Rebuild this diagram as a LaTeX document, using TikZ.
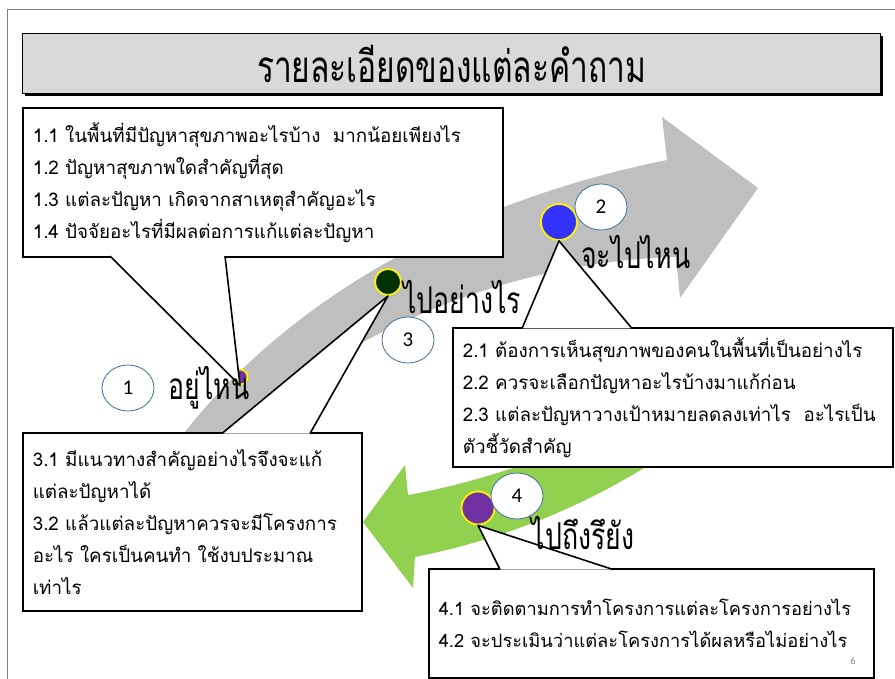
\documentclass[tikz,border=0pt]{standalone}
\usepackage{fontspec}
\newfontfamily\thai[Script=Thai]{Loma}
\newfontfamily\thaicond[Script=Thai,FakeStretch=0.72]{Loma}
\newfontfamily\numfont{Carlito}
\usetikzlibrary{positioning,calc,shapes.geometric}

\definecolor{bandgray}{RGB}{191,191,191}
\definecolor{arrowgreen}{RGB}{146,208,80}
\definecolor{titlegray}{RGB}{217,217,217}
\definecolor{framegray}{RGB}{128,128,128}
\definecolor{dotpurple}{RGB}{112,48,160}
\definecolor{dotgreen}{RGB}{0,51,0}
\definecolor{dotblue}{RGB}{51,51,255}
\definecolor{ringblue}{RGB}{65,113,156}

\begin{document}
\begin{tikzpicture}[x=1pt, y=-1pt, semithick]
	\tikzstyle{box}=[draw=black, line width=1.6pt, fill=white, anchor=north west, inner xsep=10pt, inner ysep=0pt, align=left, font=\thai\fontsize{18.8}{32}\selectfont]
	\tikzstyle{dot}=[circle, draw=yellow, line width=1.8pt, inner sep=0pt]
	\tikzstyle{num}=[ellipse, draw=ringblue, line width=0.8pt, fill=white, inner sep=0pt, minimum width=52, minimum height=46, font=\numfont\fontsize{21}{21}\selectfont]
	\tikzstyle{where}=[inner sep=0pt, font=\thaicond\fontsize{37}{37}\selectfont]
	\tikzstyle{pointer}=[draw=black, line width=1.6pt, fill=white, line join=round]
	\useasboundingbox (0,0) rectangle (895,679);
	
	\draw[framegray, line width=1pt] (7,679) -- (7,10) -- (895,10);
	
	% arrows
	\fill[bandgray] (175,445) .. controls (260,330) and (420,210) .. (667,160) -- (662,117) -- (758,188) -- (680,298) -- (676,257) .. controls (480,262) and (300,360) .. (228,445) -- cycle;
	\fill[arrowgreen] (408,495) .. controls (480,482) and (590,450) .. (690,380) -- (700,430) .. controls (600,505) and (500,540) .. (415,557) -- (413,588) -- (363,522) -- (405,465) -- cycle;
	
	\fill[black] (25,36) rectangle (883,96);
	\node[draw=black, line width=1.2pt, fill=titlegray, anchor=north west, minimum width=858, minimum height=60, font=\thaicond\fontsize{44}{44}\selectfont] (title) at (22,33) {รายละเอียดของแต่ละคำถาม};
	
	\node[box, text width=460, minimum height=149] (b1) at (22,107) {1.1 ในพื้นที่มีปัญหาสุขภาพอะไรบ้าง\ \ มากน้อยเพียงไร\\1.2 ปัญหาสุขภาพใดสำคัญที่สุด\\1.3 แต่ละปัญหา เกิดจากสาเหตุสำคัญอะไร\\1.4 ปัจจัยอะไรที่มีผลต่อการแก้แต่ละปัญหา};
	\node[box, text width=420, minimum height=139] (b2) at (452,327) {2.1 ต้องการเห็นสุขภาพของคนในพื้นที่เป็นอย่างไร\\2.2 ควรจะเลือกปัญหาอะไรบ้างมาแก้ก่อน\\2.3 แต่ละปัญหาวางเป้าหมายลดลงเท่าไร\ \ อะไรเป็น\\ตัวชี้วัดสำคัญ};
	\node[box, text width=319, minimum height=178] (b3) at (22,432) {3.1 มีแนวทางสำคัญอย่างไรจึงจะแก้\\แต่ละปัญหาได้\\3.2 แล้วแต่ละปัญหาควรจะมีโครงการ\\อะไร ใครเป็นคนทำ ใช้งบประมาณ\\เท่าไร};
	\node[box, text width=425, minimum height=109, font=\thai\fontsize{18.3}{32}\selectfont] (b4) at (428,568) {4.1 จะติดตามการทำโครงการแต่ละโครงการอย่างไร\\4.2 จะประเมินว่าแต่ละโครงการได้ผลหรือไม่อย่างไร};
	
	\node[dot, fill=dotpurple, minimum size=15] (d1) at (240,377) {};
	\node[dot, fill=dotblue, minimum size=36] (d2) at (559,222) {};
	\node[dot, fill=dotgreen, minimum size=26] (d3) at (388,282) {};
	\node[dot, fill=dotpurple, minimum size=33] (d4) at (478,508) {};
	
	% callout pointers
	\coordinate (p1a) at ($(b1.south west)+(88,-1.5)$);
	\coordinate (p1b) at ($(b1.south west)+(203,-1.5)$);
	\coordinate (p2a) at ($(b2.north west)+(70,1.5)$);
	\coordinate (p2b) at ($(b2.north west)+(180,1.5)$);
	\coordinate (p3a) at ($(b3.north west)+(200,1.5)$);
	\coordinate (p3b) at ($(b3.north west)+(288,1.5)$);
	\coordinate (p4a) at ($(b4.north west)+(72,1.5)$);
	\coordinate (p4b) at ($(b4.north west)+(185,1.5)$);
	\filldraw[pointer] (p1a) -- (d1.south) -- (p1b);
	\filldraw[pointer] (p2a) -- (d2.south) -- (p2b);
	\filldraw[pointer] (p3a) -- (d3.south) -- (p3b);
	\filldraw[pointer] (p4a) -- (d4.south) -- (p4b);
	
	\node[num] (n1) at (128,388) {1};
	\node[num] (n2) at (601,207) {2};
	\node[num] (n3) at (408,340) {3};
	\node[num] (n4) at (517,496) {4};
	
	\node[where, right=14pt of n1] (l1) {อยู่ไหน};
	\node[where] (l2) at (636,252) {จะไปไหน};
	\node[where] (l3) at (462,297) {ไปอย่างไร};
	\node[where] (l4) at (583,533) {ไปถึงรึยัง};
	
	\node[text=framegray, font=\numfont\fontsize{10}{10}\selectfont] (page) at (853,661) {6};
\end{tikzpicture}
\end{document}
